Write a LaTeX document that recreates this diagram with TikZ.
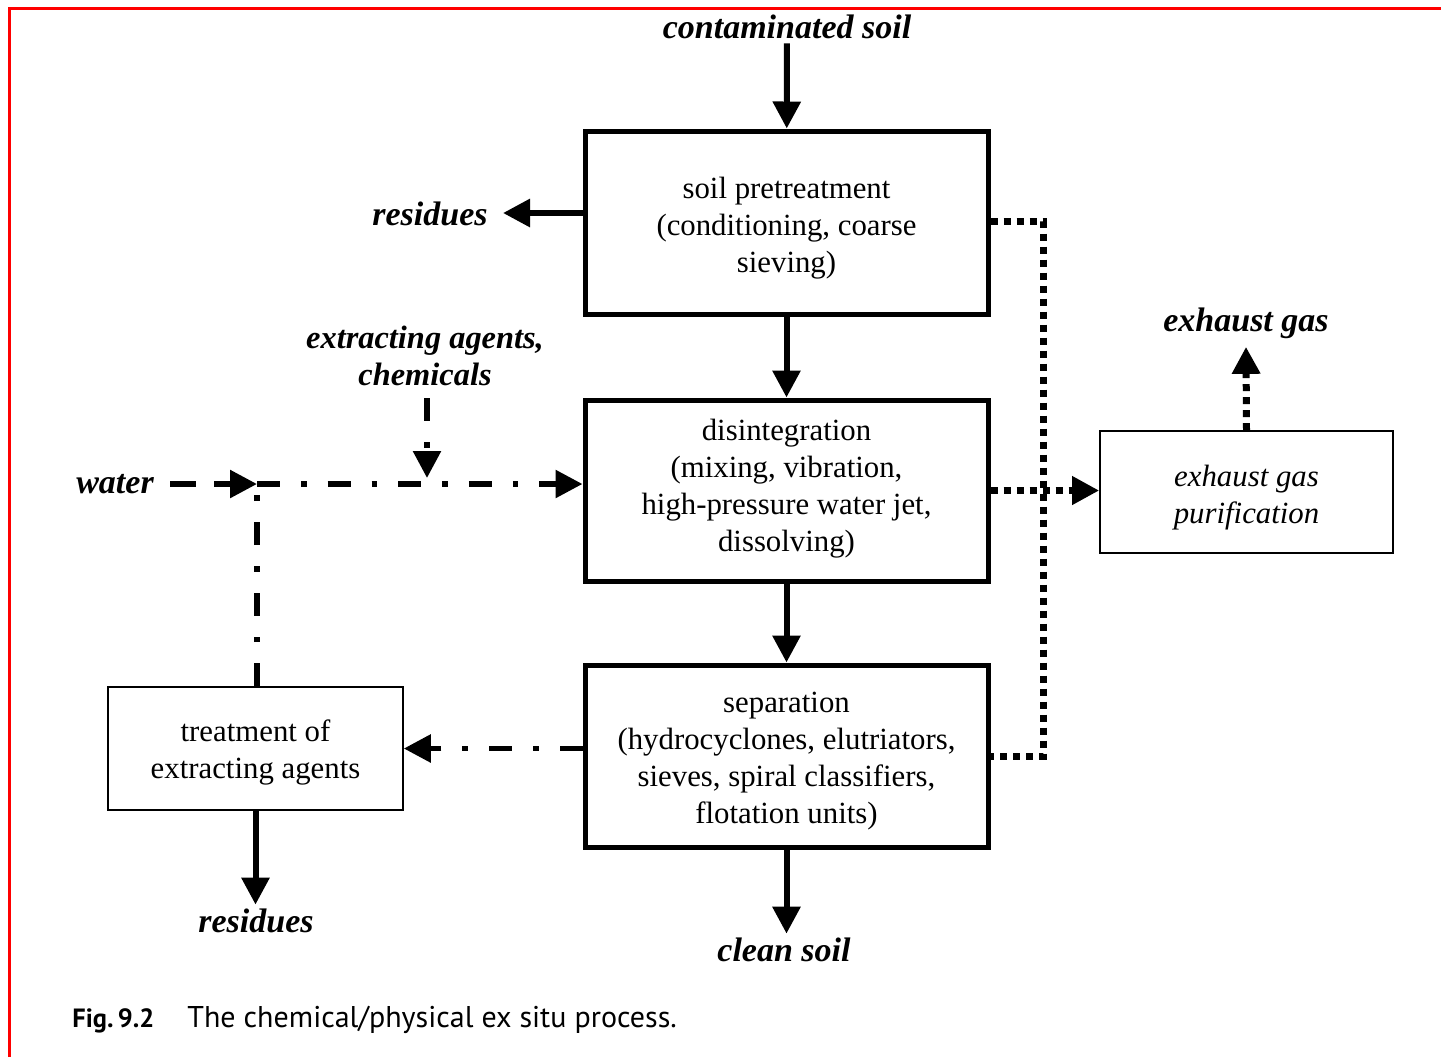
\documentclass[tikz,border=0pt]{standalone}
\usepackage{fontspec}
\setmainfont{Liberation Serif}
\newfontfamily\capfont{PT Sans}
\usetikzlibrary{arrows.meta}
\begin{document}
\begin{tikzpicture}[x=0.5pt,y=-0.5pt,
  tip/.tip={Triangle[length=13.5pt,width=13.5pt]},
  thickbox/.style={draw,line width=2.5pt,inner sep=0pt},
  thinbox/.style={draw,line width=0.8pt,inner sep=0pt},
  boxtext/.style={align=center,font=\fontsize{15.4}{18.5}\selectfont,inner sep=0pt},
  lbl/.style={font=\fontsize{17}{18.5}\selectfont\bfseries\itshape,align=center,inner sep=2pt},
  solidarrow/.style={line width=3pt,-tip},
  dashdot/.style={line width=2.8pt,dash pattern=on 11.5pt off 10.5pt on 2.8pt off 10.5pt},
  dotline/.style={line width=3.5pt,dash pattern=on 3.5pt off 3pt}
]
\useasboundingbox (0,0) rectangle (1441,1057);
% red frame
\draw[red,line width=1.5pt] (9,1057) -- (9,8) -- (1441,8);

% boxes
\node[thickbox,minimum width=201.5pt,minimum height=91.5pt] (b1) at (786.5,222.5) {};
\node[boxtext] (t1) at ([yshift=-2.8pt]b1.center) {soil pretreatment\\(conditioning, coarse\\sieving)};
\node[thickbox,minimum width=201.5pt,minimum height=90.5pt] (b2) at (786.5,490.5) {};
\node[boxtext] (t2) at ([yshift=1pt]b2.center) {disintegration\\(mixing, vibration,\\high-pressure water jet,\\dissolving)};
\node[thickbox,minimum width=201.5pt,minimum height=91pt] (b3) at (786.5,756) {};
\node[boxtext] (t3) at ([yshift=-2.5pt]b3.center) {separation\\(hydrocyclones, elutriators,\\sieves, spiral classifiers,\\flotation units)};
\node[thinbox,minimum width=147.5pt,minimum height=61.5pt] (tr) at (255.5,748.5) {};
\node[boxtext] (t4) at ([yshift=-2pt]tr.center) {treatment of\\extracting agents};
\node[thinbox,minimum width=146.5pt,minimum height=61pt] (pur) at (1246.5,492) {};
\node[boxtext,font=\fontsize{15.4}{18.5}\selectfont\itshape] (t5) at ([yshift=-3pt]pur.center) {exhaust gas\\purification};

% labels
\node[lbl] (cs) at (787,27) {contaminated soil};
\node[lbl] (res1) at (430,214) {residues};
\node[lbl,font=\fontsize{16.2}{18.5}\selectfont\bfseries\itshape] (chem) at (425,356) {extracting agents,\\chemicals};
\node[lbl] (water) at (115,484) {water};
\node[lbl] (res2) at (256,921) {residues};
\node[lbl] (clean) at (784,950) {clean soil};
\node[lbl] (eg) at (1246,323) {exhaust gas};

\coordinate (j) at (257,484);
\coordinate (jc) at (427,484);
\coordinate (bus) at (1043,490);
\coordinate (r1s) at ([yshift=4.75pt]b1.west);
\coordinate (r1e) at (503,213);

% solid arrows
\draw[solidarrow] (cs) -- (b1);
\draw[solidarrow] (b1) -- (b2);
\draw[solidarrow] (b2) -- (b3);
\draw[solidarrow] (b3) -- (b3.south |- clean.north);
\draw[solidarrow] (tr) -- (tr.south |- res2.north);
\draw[solidarrow] (r1s) -- (r1e |- r1s);

% dash-dot lines
\draw[line width=2.8pt,dash pattern=on 13pt off 9pt,shorten <=6pt,-tip] (water) -- (j);
\draw[dashdot,-tip] (j) -- (b2.west |- j);
\draw[dashdot] (tr.north -| j) -- (j);
\draw[dashdot,shorten <=4pt,-tip] (chem.south -| jc) -- ([yshift=3pt]jc);
\draw[dashdot,-tip] (b3.west |- tr.east) -- (tr.east);

% dotted lines
\draw[dotline] ([yshift=0.75pt]b1.east) -| (bus) |- (b3.east);
\draw[dotline,-tip] (b2.east) -- (pur.west |- b2.east);
\draw[dotline,-tip] (pur.north) -- ([yshift=-2pt]eg.south);

% caption
\node[anchor=base west,inner sep=0pt,font=\capfont\fontsize{13.2}{16}\selectfont\bfseries] (fig) at (72,1027) {Fig.\,9.2};
\node[anchor=base west,inner sep=0pt,font=\capfont\fontsize{15}{16}\selectfont] (cap) at (187,1027)
  {The chemical/physical ex situ process.};
\end{tikzpicture}
\end{document}
